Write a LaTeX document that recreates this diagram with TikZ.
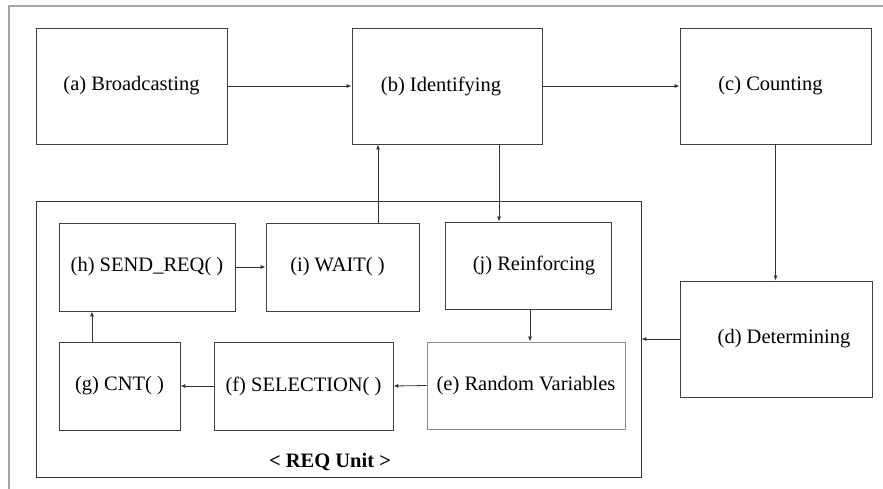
\documentclass[tikz,border=0pt]{standalone}
\usepackage{fontspec}
\setmainfont{Liberation Serif}
\usetikzlibrary{arrows.meta,calc}
\begin{document}
\begin{tikzpicture}[x=1pt,y=-1pt,
  blk/.style={draw=black!75,line width=0.9pt,inner sep=0pt,font=\rmfamily\fontsize{20.5}{24}\selectfont,text=black},
  arr/.style={draw=black!80,line width=0.8pt,-{Latex[length=5pt,width=4pt]}}]
\useasboundingbox (0,0) rectangle (883,488);
\draw[black!35,line width=1.6pt] (9,490) -- (9,6) -- (885,6);
% REQ unit container
\node[draw=black!80,line width=0.9pt,minimum width=605pt,minimum height=276pt,inner sep=0pt] (req) at (338.5,339) {};
\node[font=\rmfamily\fontsize{20.5}{24}\selectfont\bfseries,text=black] (reqlbl) at (330,462) {< REQ Unit >};
% top row
\node[blk,minimum width=191pt,minimum height=116pt] (a) at (131.5,86) {(a) Broadcasting};
\node[blk,minimum width=190pt,minimum height=116pt] (b) at (447,86) {\hspace*{-12pt}(b) Identifying};
\node[blk,minimum width=191pt,minimum height=116pt] (c) at (775.5,86) {\hspace*{-10pt}(c) Counting};
\node[blk,minimum width=192pt,minimum height=116pt] (d) at (776,339) {\hspace*{16pt}(d) Determining};
% inside unit
\node[blk,minimum width=176pt,minimum height=88pt] (h) at (147,267) {(h) SEND\_REQ( )};
\node[blk,minimum width=153pt,minimum height=88pt] (i) at (342.5,267) {\hspace*{-10pt}(i) WAIT( )};
\node[blk,minimum width=166pt,minimum height=87pt] (j) at (528,265.5) {\hspace*{12pt}(j) Reinforcing};
\node[blk,minimum width=121pt,minimum height=88pt] (g) at (119.5,386) {(g) CNT( )};
\node[blk,minimum width=179pt,minimum height=88pt] (f) at (303.5,386) {(f) SELECTION( )};
\node[blk,draw=black!45,minimum width=198pt,minimum height=87pt] (e) at (526,385.5) {(e) Random Variables};
% connectors
\draw[arr] (a.east) -- (b.west);
\draw[arr] (b.east) -- (c.west);
\draw[arr] (c.south) -- (c.south |- d.north);
\draw[arr] (d.west) -- (d.west -| req.east);
\draw[arr] ([xshift=52pt]b.south) -- ([xshift=52pt]b.south |- j.north);
\draw[arr] ([xshift=35.5pt]i.north) -- ([xshift=35.5pt]i.north |- b.south);
\draw[arr] ([xshift=2pt]j.south) -- ([xshift=2pt]j.south |- e.north);
\draw[arr] (e.west) -- (f.east);
\draw[arr] (f.west) -- (g.east);
\draw[arr] ([xshift=-27.5pt]g.north) -- ([xshift=-27.5pt]g.north |- h.south);
\draw[arr] (h.east) -- (i.west);
\end{tikzpicture}
\end{document}
